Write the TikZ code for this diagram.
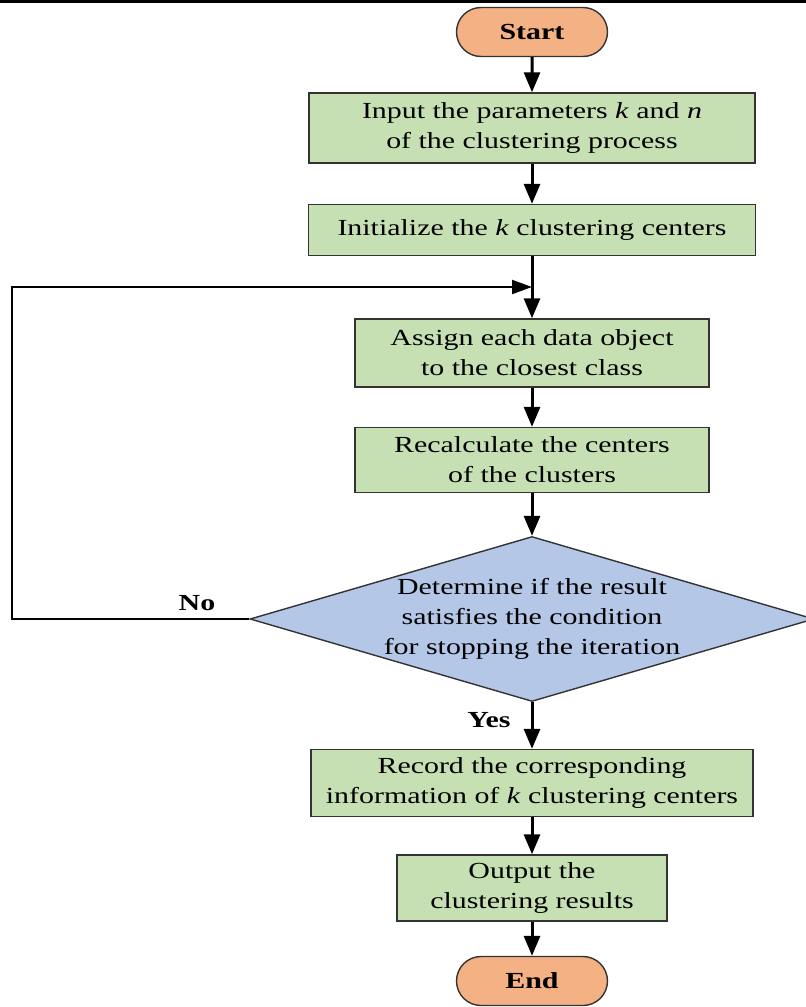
\documentclass[tikz,border=0pt]{standalone}
\usepackage{fontspec}
\setmainfont{Liberation Serif}[FakeStretch=1.3]
\usetikzlibrary{shapes.geometric,shapes.misc,arrows.meta}
\definecolor{boxgreen}{HTML}{C6E0B4}
\definecolor{termorange}{HTML}{F4B183}
\definecolor{decblue}{HTML}{B4C7E7}

\begin{document}
\begin{tikzpicture}[x=1pt,y=-1pt,
  every node/.style={font=\fontsize{23}{30}\selectfont},
  process/.style={draw=black!80,line width=1.4pt,fill=boxgreen,align=center,inner sep=0pt},
  terminal/.style={draw=black!80,line width=1.4pt,fill=termorange,rounded rectangle,
    minimum width=151pt,minimum height=49pt,inner sep=0pt,font=\fontsize{23}{30}\selectfont\bfseries},
  decision/.style={draw=black!80,line width=1.4pt,fill=decblue,diamond,inner sep=0pt,
    minimum width=564pt,minimum height=165pt},
  flow/.style={-{Triangle[length=20pt,width=16pt]},line width=3pt},
  answer/.style={font=\fontsize{23}{30}\selectfont\bfseries}]
  \useasboundingbox (0,0) rectangle (806,1007);

  % Rule along the top edge
  \fill (0,0) rectangle (806,3);

  % Start and input boxes
  \node[terminal] (start) at (532,32) {Start};
  \node[process,minimum width=446pt,minimum height=70pt] (input) at (532,128)
    {Input the parameters \textit{k} and \textit{n}\\of the clustering process};
  \node[process,minimum width=447pt,minimum height=51pt] (init) at (532,230)
    {Initialize the \textit{k} clustering centers};

  % Loop body
  \node[process,minimum width=354pt,minimum height=68pt] (assign) at (532,353)
    {Assign each data object\\to the closest class};
  \node[process,minimum width=354pt,minimum height=65pt] (recalc) at (532,460)
    {Recalculate the centers\\of the clusters};

  % Stopping test
  \node[decision] (test) at (532,619) {};
  \node[align=center] (testtext) at (532,619)
    {Determine if the result\\satisfies the condition\\for stopping the iteration};

  % Output boxes and end
  \node[process,minimum width=442pt,minimum height=67pt] (record) at (532,783)
    {Record the corresponding\\information of \textit{k} clustering centers};
  \node[process,minimum width=270pt,minimum height=66pt] (output) at (532,888)
    {Output the\\clustering results};
  \node[terminal] (end) at (532,981) {End};

  % Branch labels
  \node[answer] (no) at (197,603) {No};
  \node[answer] (yes) at (489,720) {Yes};

  % Main flow arrows
  \draw[flow] (start) -- (input);
  \draw[flow] (input) -- (init);
  \draw[flow] (init) -- (assign);
  \draw[flow] (assign) -- (recalc);
  \draw[flow] (recalc) -- (test);
  \draw[flow] (test) -- (record);
  \draw[flow] (record) -- (output);
  \draw[flow] (output) -- (end);

  % Feedback loop for the No branch
  \coordinate (join) at (532,287);
  \draw[-{Triangle[length=20pt,width=14pt]},line width=2pt]
    (test.west) -- (12,619) -- (12,287) -- (join);

\end{tikzpicture}
\end{document}
